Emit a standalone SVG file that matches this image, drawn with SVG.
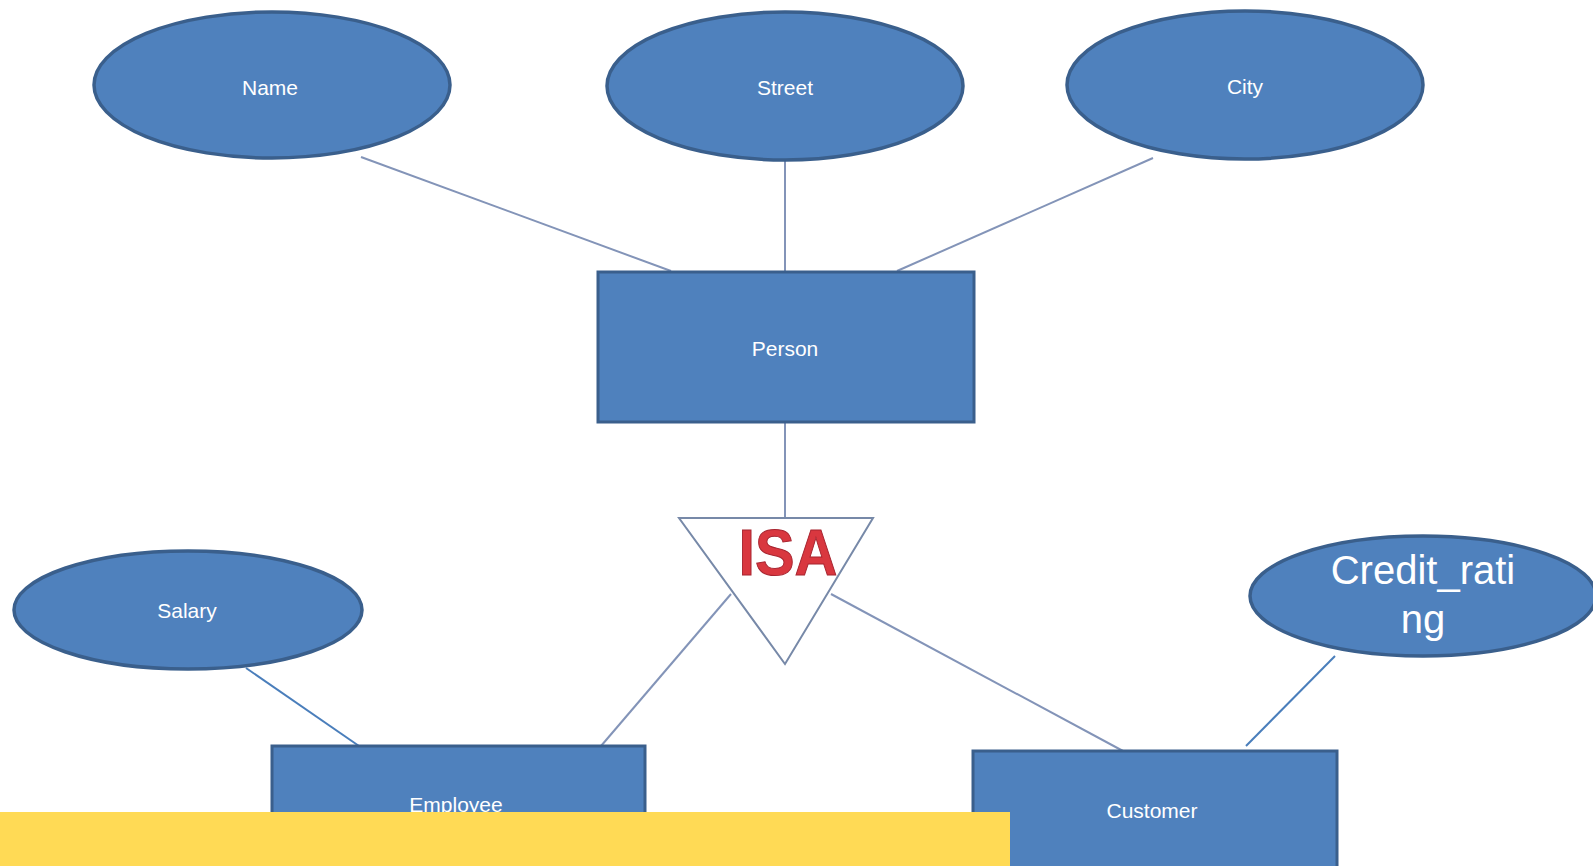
<svg xmlns="http://www.w3.org/2000/svg" width="1593" height="866" viewBox="0 0 1593 866">
<style>
.ent{fill:#4F81BD;stroke:#3A5F8C;stroke-width:3}
.att{fill:#4F81BD;stroke:#3A5F8C;stroke-width:3.5}
.lbl{font-family:"Liberation Sans",Arial,sans-serif;font-size:21px;fill:#fff;text-anchor:middle}
.c1{stroke:#8394B8;stroke-width:2;fill:none}
.c2{stroke:#4A7EBB;stroke-width:2;fill:none}
.isa{font-family:"Liberation Sans",Arial,sans-serif;font-weight:bold;font-size:64px;fill:#D9373F;stroke:#A82530;stroke-width:1;text-anchor:middle}
</style>
<rect width="1593" height="866" fill="#fff"/>
<g id="connectors">
<line class="c1" x1="361" y1="157" x2="671" y2="271"/>
<line class="c1" x1="785" y1="161" x2="785" y2="272"/>
<line class="c1" x1="1153" y1="158" x2="897" y2="271"/>
<line class="c1" x1="785" y1="422" x2="785" y2="518"/>
<line class="c1" x1="731" y1="594" x2="601" y2="746"/>
<line class="c1" x1="831" y1="594" x2="1123" y2="751"/>
<line class="c2" x1="246" y1="668" x2="359" y2="746"/>
<line class="c2" x1="1335" y1="656" x2="1246" y2="746"/>
</g>
<g id="name"><ellipse class="att" cx="272" cy="85" rx="178" ry="73"/><text class="lbl" x="270" y="95">Name</text></g>
<g id="street"><ellipse class="att" cx="785" cy="86" rx="178" ry="74"/><text class="lbl" x="785" y="95">Street</text></g>
<g id="city"><ellipse class="att" cx="1245" cy="85" rx="178" ry="74"/><text class="lbl" x="1245" y="94">City</text></g>
<g id="person"><rect class="ent" x="598" y="272" width="376" height="150"/><text class="lbl" x="785" y="356">Person</text></g>
<g id="isa">
<polygon points="679,518 873,518 785,664" fill="#fff" stroke="#7789A8" stroke-width="2"/>
<text class="isa" x="788" y="575" textLength="99" lengthAdjust="spacingAndGlyphs">ISA</text>
</g>
<g id="salary"><ellipse class="att" cx="188" cy="610" rx="174" ry="59"/><text class="lbl" x="187" y="618">Salary</text></g>
<g id="credit"><ellipse class="att" cx="1423" cy="596" rx="173" ry="60"/>
<text class="lbl" x="1423" y="584" style="font-size:40px">Credit_rati</text>
<text class="lbl" x="1423" y="633" style="font-size:40px">ng</text></g>
<g id="employee"><rect class="ent" x="272" y="746" width="373" height="140"/><text class="lbl" x="456" y="812">Employee</text></g>
<g id="customer"><rect class="ent" x="973" y="751" width="364" height="140"/><text class="lbl" x="1152" y="818">Customer</text></g>
<rect x="0" y="812" width="1010" height="54" fill="#FFDA55"/>
</svg>
